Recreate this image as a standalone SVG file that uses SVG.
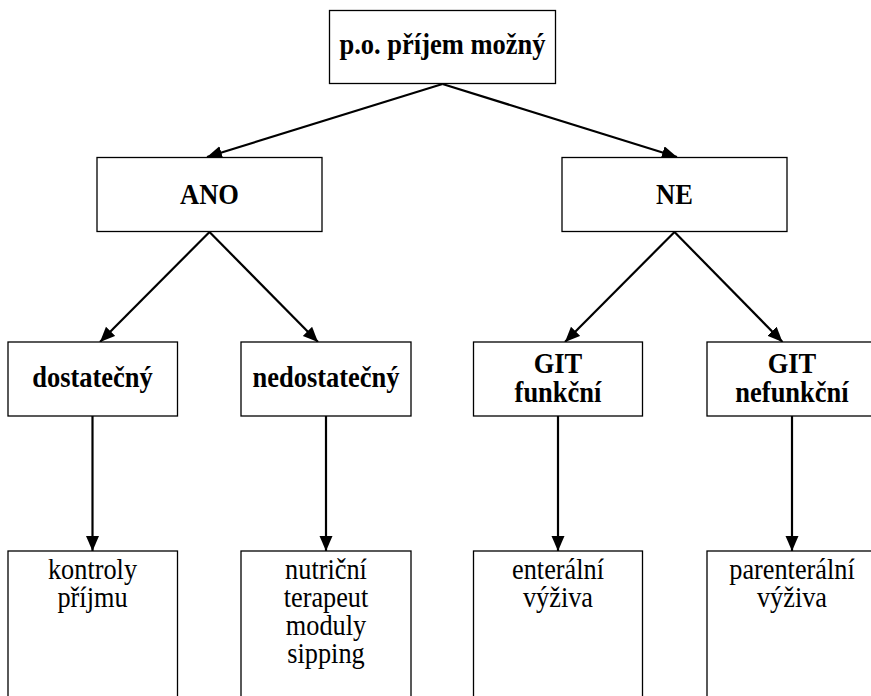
<svg xmlns="http://www.w3.org/2000/svg" width="871" height="696" viewBox="0 0 871 696">
<defs>
<style>
.box{fill:#fff;stroke:#000;stroke-width:1.3}
.b{font-family:"Liberation Serif","Times New Roman",serif;font-weight:bold;font-size:26.5px;text-anchor:middle;fill:#000}
.r{font-family:"Liberation Serif","Times New Roman",serif;font-size:26.3px;text-anchor:middle;fill:#000}
.c{stroke:#000;stroke-width:2.2;fill:none}
</style>
<marker id="ah" markerUnits="userSpaceOnUse" markerWidth="16" markerHeight="14" refX="15" refY="6.5" orient="auto">
<path d="M0,0 L15,6.5 L0,13 z" fill="#000"/>
</marker>
</defs>
<rect width="871" height="696" fill="#fff"/>
<g id="connectors">
<line class="c" x1="442.5" y1="84" x2="207" y2="157" marker-end="url(#ah)"/>
<line class="c" x1="442.5" y1="84" x2="677" y2="157" marker-end="url(#ah)"/>
<line class="c" x1="209.5" y1="232" x2="100" y2="342" marker-end="url(#ah)"/>
<line class="c" x1="209.5" y1="232" x2="318" y2="342" marker-end="url(#ah)"/>
<line class="c" x1="674.5" y1="232" x2="565" y2="342" marker-end="url(#ah)"/>
<line class="c" x1="674.5" y1="232" x2="782.5" y2="342" marker-end="url(#ah)"/>
<line class="c" x1="92.5" y1="416" x2="92.5" y2="551" marker-end="url(#ah)"/>
<line class="c" x1="326" y1="416" x2="326" y2="551" marker-end="url(#ah)"/>
<line class="c" x1="558" y1="416" x2="558" y2="551" marker-end="url(#ah)"/>
<line class="c" x1="792" y1="416" x2="792" y2="551" marker-end="url(#ah)"/>
</g>
<g id="root">
<rect class="box" x="329.5" y="10.5" width="226" height="73"/>
<text class="b" transform="translate(442.5 54) scale(1 1.1)">p.o. příjem možný</text>
</g>
<g id="ano">
<rect class="box" x="97" y="157.5" width="225" height="74"/>
<text class="b" transform="translate(209.5 204) scale(1 1.1)">ANO</text>
</g>
<g id="ne">
<rect class="box" x="562" y="157.5" width="225" height="74"/>
<text class="b" transform="translate(674.5 204) scale(1 1.1)">NE</text>
</g>
<g id="dostatecny">
<rect class="box" x="8" y="342" width="169.5" height="74"/>
<text class="b" transform="translate(92.5 387) scale(1 1.1)">dostatečný</text>
</g>
<g id="nedostatecny">
<rect class="box" x="241" y="342" width="170" height="74"/>
<text class="b" transform="translate(326 387) scale(1 1.1)">nedostatečný</text>
</g>
<g id="git-funkcni">
<rect class="box" x="473.5" y="342" width="169" height="74"/>
<text class="b" transform="translate(558 373) scale(1 1.1)">GIT</text>
<text class="b" transform="translate(558 402) scale(1 1.1)">funkční</text>
</g>
<g id="git-nefunkcni">
<rect class="box" x="707" y="342" width="170" height="74"/>
<text class="b" transform="translate(792 373) scale(1 1.1)">GIT</text>
<text class="b" transform="translate(792 402) scale(1 1.1)">nefunkční</text>
</g>
<g id="kontroly">
<rect class="box" x="8" y="551" width="169.5" height="160"/>
<text class="r" transform="translate(92.5 579) scale(1 1.1)">kontroly</text>
<text class="r" transform="translate(92.5 607) scale(1 1.1)">příjmu</text>
</g>
<g id="nutricni">
<rect class="box" x="241" y="551" width="170" height="160"/>
<text class="r" transform="translate(326 579) scale(1 1.1)">nutriční</text>
<text class="r" transform="translate(326 607) scale(1 1.1)">terapeut</text>
<text class="r" transform="translate(326 635) scale(1 1.1)">moduly</text>
<text class="r" transform="translate(326 663) scale(1 1.1)">sipping</text>
</g>
<g id="enteralni">
<rect class="box" x="473.5" y="551" width="169" height="160"/>
<text class="r" transform="translate(558 579) scale(1 1.1)">enterální</text>
<text class="r" transform="translate(558 607) scale(1 1.1)">výživa</text>
</g>
<g id="parenteralni">
<rect class="box" x="707" y="551" width="170" height="160"/>
<text class="r" transform="translate(792 579) scale(1 1.1)">parenterální</text>
<text class="r" transform="translate(792 607) scale(1 1.1)">výživa</text>
</g>
</svg>
